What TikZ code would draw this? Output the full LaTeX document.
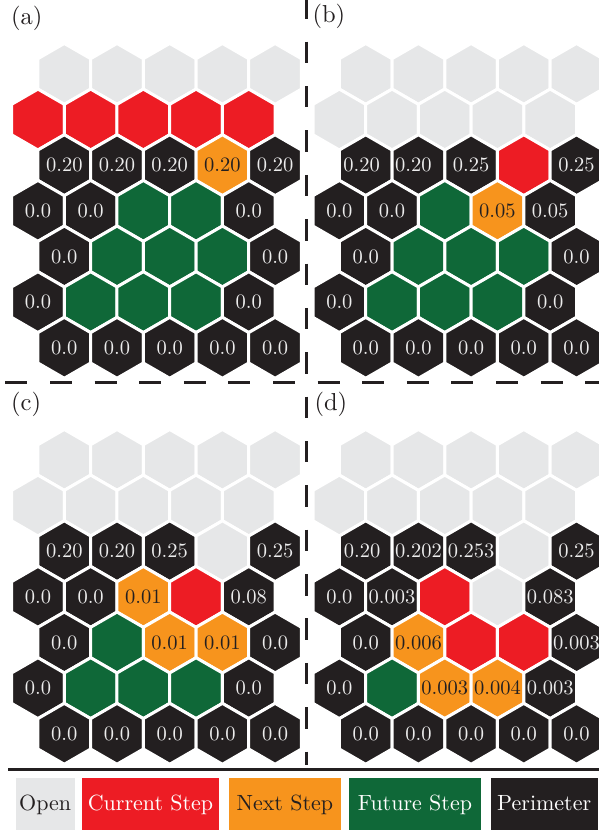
\documentclass[tikz,border=0pt]{standalone}
\usepackage{fontspec}
\setmainfont{lmroman10-regular.otf}
\usetikzlibrary{shapes.geometric}
\definecolor{cOpen}{RGB}{230,231,232}
\definecolor{cCur}{RGB}{237,28,36}
\definecolor{cNext}{RGB}{247,148,29}
\definecolor{cFut}{RGB}{15,104,56}
\definecolor{cPer}{RGB}{35,31,32}
\definecolor{cLite}{RGB}{236,236,236}
\tikzset{
  hexcell/.style={regular polygon, regular polygon sides=6, shape border rotate=30,
    minimum size=60.86pt, inner sep=0pt, outer sep=0pt, draw=white, line width=3pt,
    font=\fontsize{20.5}{24}\selectfont, text=cLite},
  hG/.style={hexcell, fill=cOpen},
  hR/.style={hexcell, fill=cCur},
  hO/.style={hexcell, fill=cNext, text=cPer},
  hF/.style={hexcell, fill=cFut},
  hK/.style={hexcell, fill=cPer},
  panellab/.style={inner sep=0pt, anchor=base west, font=\fontsize{24.5}{28}\selectfont, text=cPer},
  legbox/.style={minimum height=52pt, inner sep=0pt, outer sep=0pt,
    font=\fontsize{22}{26}\selectfont, text height=17pt, text depth=4pt},
  sepline/.style={draw=cPer, line width=2.5pt}
}
\newcommand\hexpanel[4]{%
  \foreach [count=\r from 0] \row in {#4} {%
    \foreach [count=\c from 0] \s/\l in \row {%
      \pgfmathsetmacro\hx{#2 + (isodd(\r) ? 37.95 : 64.3) + 52.7*\c}%
      \pgfmathsetmacro\hy{#3 + 73.9 + 45.65*\r}%
      \node[h\s] (#1-\r-\c) at (\hx,\hy) {\makebox[0pt]{\l}};
    }
  }
}
\begin{document}
\begin{tikzpicture}[x=1pt,y=-1pt]
\useasboundingbox (0,0) rectangle (598,830);

% panel (a)
\hexpanel{a}{0}{0}{
 {G/{},G/{},G/{},G/{},G/{}},
 {R/{},R/{},R/{},R/{},R/{}},
 {K/0.20,K/0.20,K/0.20,O/0.20,K/0.20},
 {K/0.0,K/0.0,F/{},F/{},K/0.0},
 {K/0.0,F/{},F/{},F/{},K/0.0},
 {K/0.0,F/{},F/{},F/{},K/0.0},
 {K/0.0,K/0.0,K/0.0,K/0.0,K/0.0}}

% panel (b)
\hexpanel{b}{301.4}{0}{
 {G/{},G/{},G/{},G/{},G/{}},
 {G/{},G/{},G/{},G/{},G/{}},
 {K/{0.20\hspace*{8pt}},K/{0.20\hspace*{10pt}},K/0.25,R/{},K/0.25},
 {K/0.0,K/0.0,F/{},O/0.05,K/0.05},
 {K/0.0,F/{},F/{},F/{},K/0.0},
 {K/0.0,F/{},F/{},F/{},K/0.0},
 {K/0.0,K/0.0,K/0.0,K/0.0,K/0.0}}

% panel (c)
\hexpanel{c}{0}{386}{
 {G/{},G/{},G/{},G/{},G/{}},
 {G/{},G/{},G/{},G/{},G/{}},
 {K/0.20,K/0.20,K/0.25,G/{},K/0.25},
 {K/0.0,K/0.0,O/0.01,R/{},K/0.08},
 {K/0.0,F/{},O/0.01,O/0.01,K/0.0},
 {K/0.0,F/{},F/{},F/{},K/0.0},
 {K/0.0,K/0.0,K/0.0,K/0.0,K/0.0}}

% panel (d)
\hexpanel{d}{301.4}{386}{
 {G/{},G/{},G/{},G/{},G/{}},
 {G/{},G/{},G/{},G/{},G/{}},
 {K/{0.20\hspace*{7pt}},K/0.202,K/0.253,G/{},K/0.25},
 {K/0.0,K/0.003,R/{},G/{},K/0.083},
 {K/0.0,O/0.006,R/{},R/{},K/0.003},
 {K/0.0,F/{},O/0.003,O/0.004,K/0.003},
 {K/0.0,K/0.0,K/0.0,K/0.0,K/0.0}}

% panel labels
\node[panellab] (labA) at (11,24.5) {(a)};
\node[panellab] (labB) at (312.3,22.3) {(b)};
\node[panellab] (labC) at (11,410.7) {(c)};
\node[panellab] (labD) at (314.3,410.7) {(d)};

% separators
\coordinate (vtop) at (306.3,-2.7);
\coordinate (vbot) at (306.3,765);
\coordinate (hleft) at (5.4,382.3);
\coordinate (hright) at (600,382.3);
\coordinate (sleft) at (8.3,769.3);
\coordinate (sright) at (600,769.3);
\draw[sepline, dash pattern=on 21.4pt off 22.97pt] (vtop) -- (vbot);
\draw[sepline, dash pattern=on 22pt off 22.6pt] (hleft) -- (hright);
\draw[sepline] (sleft) -- (sright);

% legend
\node[legbox, fill=cOpen, text=cPer, minimum width=59pt] (legOpen) at (45.2,804) {Open};
\node[legbox, fill=cCur, text=white, minimum width=137pt] (legCur) at (150.5,804) {Current Step};
\node[legbox, fill=cNext, text=cPer, minimum width=112.3pt] (legNext) at (284.85,804) {Next Step};
\node[legbox, fill=cFut, text=white, minimum width=132pt] (legFut) at (415,804) {Future Step};
\node[legbox, fill=cPer, text=white, minimum width=107pt] (legPer) at (544.2,804) {Perimeter};
\end{tikzpicture}
\end{document}
